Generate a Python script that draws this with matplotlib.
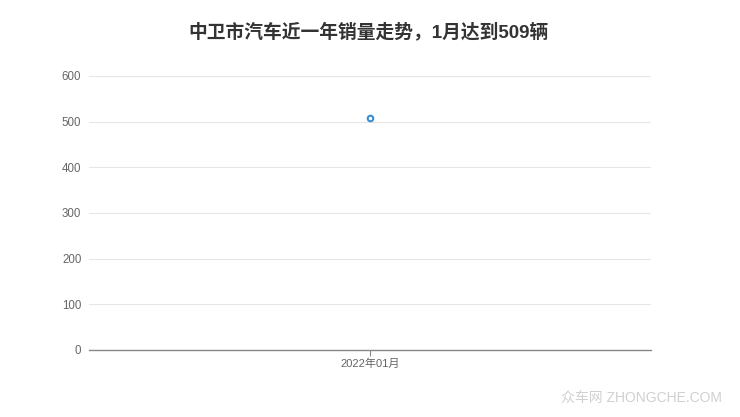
import matplotlib
matplotlib.use("Agg")
import matplotlib.pyplot as plt

plt.rcParams['font.family'] = ['Liberation Sans', 'Noto Sans CJK SC', 'DejaVu Sans']

categories = ["2022年01月"]
values = [509]
yticks = [0, 100, 200, 300, 400, 500, 600]
title = "中卫市汽车近一年销量走势，1月达到509辆"

fig = plt.figure(figsize=(7.4, 4.17), dpi=100)
ax = fig.add_axes([89/740, 67/417, (651-89)/740, (350-76)/417])

x = list(range(len(categories)))
ax.plot(x, values, color="#3a8ed0", lw=1.5, marker="o", markersize=4.0,
        markerfacecolor="white", markeredgecolor="#3a8ed0", markeredgewidth=1.5, zorder=3)

ax.set_xlim(-0.5, len(categories) - 0.5)
ax.set_ylim(0, 600)
ax.set_yticks(yticks)
ax.set_yticklabels([str(v) for v in yticks])
ax.set_xticks(x)
ax.set_xticklabels(categories)
ax.grid(axis="y", color="#e6e6e6", lw=0.8)
ax.set_axisbelow(True)
for s in ["top", "right", "left"]:
    ax.spines[s].set_visible(False)
ax.spines["bottom"].set_color("#888888")
ax.spines["bottom"].set_linewidth(1.0)
ax.tick_params(axis="y", length=0, pad=5.5, labelsize=8.3, labelcolor="#666666")
ax.tick_params(axis="x", length=4, color="#888888", pad=2, labelsize=8, labelcolor="#666666")

fig.text(369/740, 1 - 32/417, title, ha="center", va="center", fontsize=13.5,
         fontweight="bold", color="#333333",
         family=['Liberation Sans', 'Noto Sans CJK SC', 'DejaVu Sans'])
fig.text(722/740, 1 - 398/417, "众车网 ZHONGCHE.COM", ha="right", va="center",
         fontsize=10, color="#d0d0d0")

fig.savefig("out.png", dpi=100)
